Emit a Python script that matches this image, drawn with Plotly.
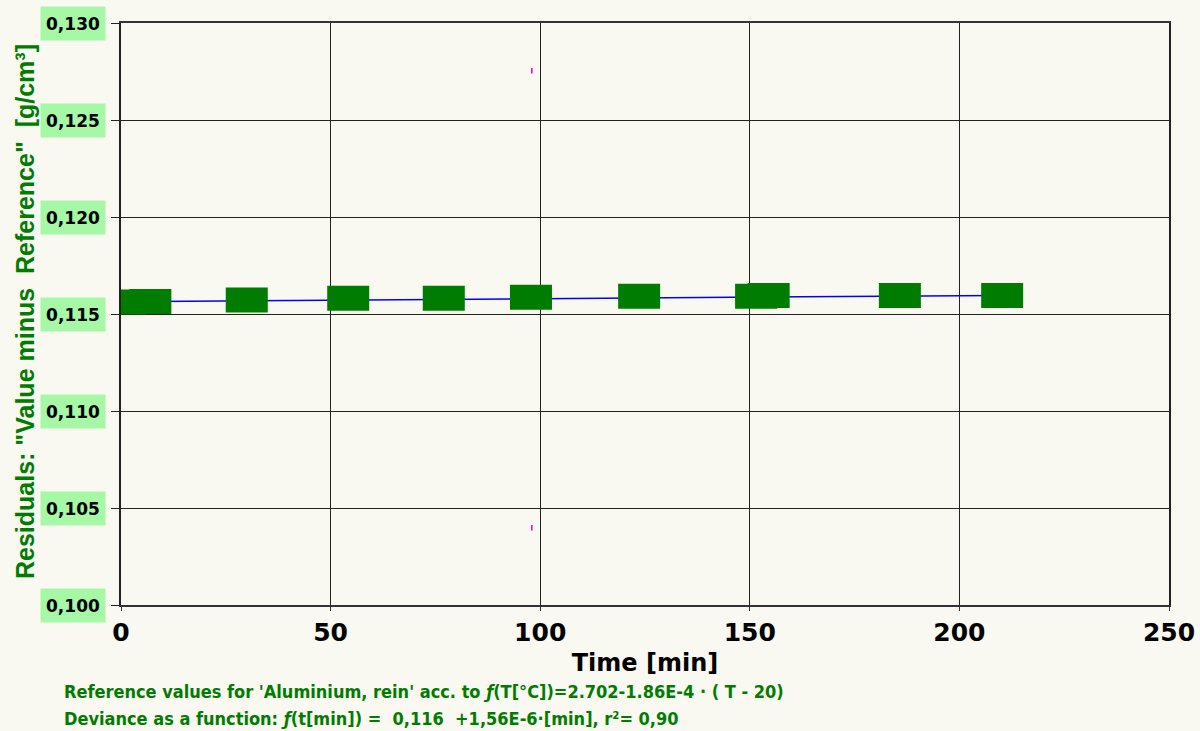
import plotly.graph_objects as go

# Measured residuals (time in minutes, residual in g/cm³)
time_min = [1, 7, 30, 54.2, 77, 97.8, 123.6, 151.5, 154.5, 185.8, 210.2]
residual = [0.11562, 0.11565, 0.11572, 0.11581, 0.11581, 0.11586, 0.11591, 0.11591, 0.11595, 0.11596, 0.11596]

# Linear fit of the deviance
fit_t = [0, 210]
fit_y = [0.11563, 0.11596]

# Confidence marks
conf_t = [98, 98]
conf_y = [0.12754, 0.10398]

x_ticks = [0, 50, 100, 150, 200, 250]
y_ticks = [0.100, 0.105, 0.110, 0.115, 0.120, 0.125, 0.130]
y_tick_text = ["0,100", "0,105", "0,110", "0,115", "0,120", "0,125", "0,130"]

GREEN = "#007c00"
BG = "#f9f8f1"

fig = go.Figure()

fig.add_trace(go.Scatter(
    x=fit_t, y=fit_y, mode="lines",
    line=dict(color="#0000ff", width=1.5),
    showlegend=False, hoverinfo="skip",
))

# Rectangular markers: horizontal line symbol with a thick stroke
fig.add_trace(go.Scatter(
    x=time_min, y=residual, mode="markers",
    marker=dict(symbol="line-ew", size=30,
                line=dict(color="#007c00", width=25)),
    showlegend=False,
))

fig.add_trace(go.Scatter(
    x=conf_t, y=conf_y, mode="markers",
    marker=dict(symbol="line-ns", size=4,
                line=dict(color="#e000d0", width=1.5)),
    showlegend=False, hoverinfo="skip",
))

annotations = []
for v, txt in zip(y_ticks, y_tick_text):
    annotations.append(dict(
        x=0, xref="paper", y=v, yref="y", xanchor="right", yanchor="middle",
        xshift=-15, text=txt, showarrow=False,
        font=dict(family="DejaVu Sans", size=17, color="black", weight="bold"),
        bgcolor="#a6f7a6", width=60, height=29, borderpad=2, align="center",
    ))

annotations.append(dict(
    x=0, xref="paper", y=0.5, yref="paper", xanchor="center", yanchor="middle",
    xshift=-96, yshift=2, textangle=-90, showarrow=False,
    text='Residuals: "Value minus  Reference"  [g/cm³]',
    font=dict(family="Liberation Sans", size=25, color=GREEN, weight="bold"),
))

note_font = dict(family="DejaVu Sans Condensed, Liberation Sans", size=18,
                 color=GREEN, weight="bold")
annotations.append(dict(
    x=-59 / 1048, xref="paper", y=-86 / 582, yref="paper",
    xanchor="left", yanchor="middle", showarrow=False,
    text="Reference values for 'Aluminium, rein' acc. to <i>ƒ</i>(T[°C])=2.702-1.86E-4 · ( T - 20)",
    font=note_font,
))
annotations.append(dict(
    x=-59 / 1048, xref="paper", y=-113 / 582, yref="paper",
    xanchor="left", yanchor="middle", showarrow=False,
    text="Deviance as a function: <i>ƒ</i>(t[min]) =  0,116  +1,56E-6·[min], r²= 0,90",
    font=note_font,
))

fig.update_layout(
    width=1200, height=731,
    margin=dict(l=121, r=31, t=23, b=126, autoexpand=False),
    paper_bgcolor=BG, plot_bgcolor=BG,
    annotations=annotations,
    xaxis=dict(
        range=[0, 250], tickvals=x_ticks, ticktext=[str(v) for v in x_ticks],
        showgrid=True, gridcolor="#222222", gridwidth=1,
        showline=True, linecolor="#333333", linewidth=2, mirror=True,
        ticks="outside", ticklen=4, tickcolor="#333333",
        tickfont=dict(family="DejaVu Sans", size=25, color="black", weight="bold"),
        title=dict(text="Time [min]", standoff=8,
                   font=dict(family="DejaVu Sans", size=24, color="black", weight="bold")),
        zeroline=False, fixedrange=True, automargin=False,
    ),
    yaxis=dict(
        range=[0.100, 0.130], tickvals=y_ticks, showticklabels=False,
        showgrid=True, gridcolor="#222222", gridwidth=1,
        showline=True, linecolor="#222222", linewidth=2, mirror=True,
        ticks="outside", ticklen=8, tickcolor="#222222",
        zeroline=False, fixedrange=True, automargin=False,
    ),
)

fig.write_html("out.html")
